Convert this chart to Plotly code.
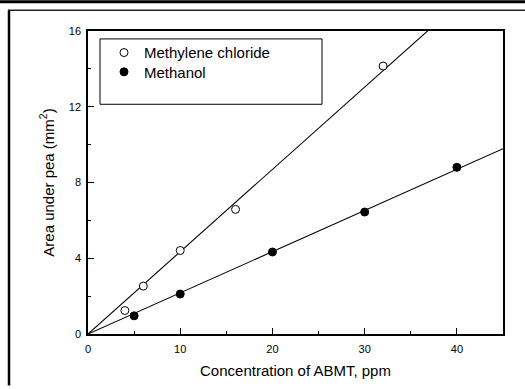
import numpy as np
import plotly.graph_objects as go

# Peak area vs. ABMT concentration for two extraction solvents
dcm_conc = [4, 6, 10, 16, 32]
dcm_area = [1.24, 2.53, 4.41, 6.58, 14.15]
meoh_conc = [5, 10, 20, 30, 40]
meoh_area = [0.96, 2.11, 4.33, 6.44, 8.80]

x_range = [0, 45]
y_range = [0, 16]
x_ticks = [0, 10, 20, 30, 40]
y_ticks = [0, 4, 8, 12, 16]

W, H = 525, 389
ML, MR, MT, MB = 88, 22, 31, 52
PW, PH = W - ML - MR, H - MT - MB


def px_x(px):
    return (px - ML) / PW


def px_y(py):
    return (H - MB - py) / PH


def origin_fit(x, y):
    x = np.asarray(x, float)
    y = np.asarray(y, float)
    return float((x * y).sum() / (x * x).sum())


fit_x = np.array(x_range, float)
k_dcm = origin_fit(dcm_conc, dcm_area)
k_meoh = origin_fit(meoh_conc, meoh_area)

FONT = "Liberation Sans, Arial, sans-serif"

fig = go.Figure()

fig.add_trace(go.Scatter(x=fit_x, y=k_dcm * fit_x, mode="lines",
                         line=dict(color="black", width=1.1),
                         showlegend=False, hoverinfo="skip"))
fig.add_trace(go.Scatter(x=fit_x, y=k_meoh * fit_x, mode="lines",
                         line=dict(color="black", width=1.1),
                         showlegend=False, hoverinfo="skip"))

fig.add_trace(go.Scatter(x=dcm_conc, y=dcm_area, mode="markers",
                         name="Methylene chloride", legend="legend",
                         marker=dict(symbol="circle", size=8, color="white",
                                     line=dict(color="black", width=1))))
fig.add_trace(go.Scatter(x=meoh_conc, y=meoh_area, mode="markers",
                         name="Methanol", legend="legend2",
                         marker=dict(symbol="circle", size=8, color="black",
                                     line=dict(color="black", width=1))))

axis_common = dict(
    showgrid=False, zeroline=False, showline=True, linecolor="black",
    linewidth=1.5, mirror=True, ticks="inside", ticklen=6, tickwidth=1,
    tickcolor="black", tickfont=dict(family=FONT, size=11, color="black"),
)

fig.update_xaxes(range=x_range, tickvals=x_ticks, ticklabelstandoff=4,
                 minor=dict(ticks="inside", ticklen=3.5, dtick=5,
                            tickcolor="black", tickwidth=1),
                 title=dict(text="Concentration of ABMT, ppm",
                            font=dict(family=FONT, size=15, color="black"),
                            standoff=12),
                 **axis_common)
fig.update_yaxes(range=y_range, tickvals=y_ticks, ticklabelstandoff=3,
                 minor=dict(ticks="inside", ticklen=3.5, dtick=2,
                            tickcolor="black", tickwidth=1),
                 title=dict(text="Area under pea (mm<sup>2</sup>)",
                            font=dict(family=FONT, size=15, color="black"),
                            standoff=11),
                 **axis_common)

shapes = [
    # legend frame
    dict(type="rect", xref="paper", yref="paper",
         x0=px_x(100), x1=px_x(322), y0=px_y(105), y1=px_y(39),
         line=dict(color="black", width=1), fillcolor="rgba(0,0,0,0)"),
    # page border lines
    dict(type="rect", xref="paper", yref="paper",
         x0=px_x(0), x1=px_x(W), y0=px_y(3), y1=px_y(0),
         line=dict(width=0), fillcolor="black"),
    dict(type="line", xref="paper", yref="paper",
         x0=px_x(8), x1=px_x(W), y0=px_y(10), y1=px_y(10),
         line=dict(color="#222222", width=1.5)),
    dict(type="line", xref="paper", yref="paper",
         x0=px_x(9), x1=px_x(9), y0=px_y(10), y1=px_y(H),
         line=dict(color="black", width=2.5)),
]

legend_style = dict(xanchor="left", yanchor="middle",
                    bgcolor="rgba(0,0,0,0)", borderwidth=0,
                    font=dict(family=FONT, size=15, color="black"),
                    itemwidth=30)

fig.update_layout(
    width=W, height=H,
    margin=dict(l=ML, r=MR, t=MT, b=MB),
    paper_bgcolor="white", plot_bgcolor="white",
    font=dict(family=FONT, color="black"),
    shapes=shapes,
    showlegend=True,
    legend=dict(x=px_x(104), y=px_y(53), **legend_style),
    legend2=dict(x=px_x(104), y=px_y(72.5), **legend_style),
)

fig.write_html("out.html")
